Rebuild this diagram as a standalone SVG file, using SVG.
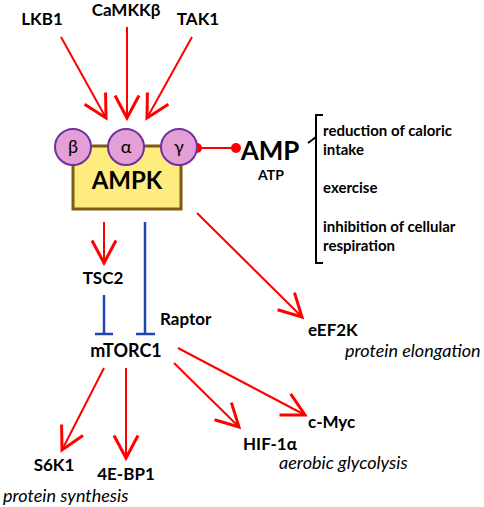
<svg xmlns="http://www.w3.org/2000/svg" width="484" height="507" viewBox="0 0 484 507">
<style>
text{font-family:Lato,"Open Sans","Liberation Sans",sans-serif;fill:#000}
.b{font-weight:bold}
.lbl{font-size:17px;font-weight:bold}
.note{font-size:15px;font-weight:bold}
.it{font-size:18px;font-style:italic}
.gr{font-size:18px}
.act{stroke:#ff0000;stroke-width:2;fill:none}
.inh{stroke:#1f45b0;stroke-width:2.5;fill:none}
.sub{fill:#e39fd6;stroke:#7030a0;stroke-width:2}
</style>
<defs>
<marker id="ah" markerUnits="userSpaceOnUse" markerWidth="30" markerHeight="30" viewBox="-16 -10 20 20" refX="0" refY="0" orient="auto">
<path d="M-15,-8 L0,0 L-15,8" fill="none" stroke="#ff0000" stroke-width="2"/>
</marker>
</defs>
<g id="connectors">
<line class="act" x1="61" y1="37" x2="106" y2="118" marker-end="url(#ah)"/>
<line class="act" x1="127" y1="27" x2="127" y2="118" marker-end="url(#ah)"/>
<line class="act" x1="192" y1="37" x2="147" y2="118" marker-end="url(#ah)"/>
<line class="act" x1="197" y1="148" x2="236" y2="148"/>
<circle cx="197" cy="148" r="5" fill="#ff0000"/>
<circle cx="236" cy="148" r="5" fill="#ff0000"/>
<line class="act" x1="197" y1="213" x2="302" y2="317" marker-end="url(#ah)"/>
<line class="act" x1="104" y1="222" x2="104" y2="263" marker-end="url(#ah)"/>
<line class="inh" x1="104" y1="295" x2="104" y2="334"/>
<line class="inh" x1="95" y1="334" x2="113" y2="334"/>
<line class="inh" x1="145" y1="222" x2="145" y2="334"/>
<line class="inh" x1="136" y1="334" x2="155" y2="334"/>
<line class="act" x1="104" y1="368" x2="62" y2="450" marker-end="url(#ah)"/>
<line class="act" x1="126" y1="368" x2="126" y2="458" marker-end="url(#ah)"/>
<line class="act" x1="174" y1="363" x2="239" y2="427" marker-end="url(#ah)"/>
<line class="act" x1="178" y1="348" x2="305" y2="415" marker-end="url(#ah)"/>
<path d="M323,115 L316,115 L316,263 L323,263 M316,137 L308,143" stroke="#000" stroke-width="2" fill="none"/>
</g>
<g id="LKB1"><text class="lbl" x="42" y="25" text-anchor="middle">LKB1</text></g>
<g id="CaMKKb"><text class="lbl" x="126" y="16" text-anchor="middle" font-size="18">CaMKKβ</text></g>
<g id="TAK1"><text class="lbl" x="198" y="25" text-anchor="middle">TAK1</text></g>
<g id="AMPK">
<rect x="73" y="146" width="108" height="63" fill="#ffec7f" stroke="#7f5a10" stroke-width="3"/>
<text class="b" x="127" y="189" text-anchor="middle" font-size="24">AMPK</text>
<circle class="sub" cx="73" cy="147" r="18"/>
<circle class="sub" cx="126" cy="147" r="18"/>
<circle class="sub" cx="179" cy="147" r="18"/>
<text class="gr" x="73" y="153" text-anchor="middle">β</text>
<text class="gr" x="126" y="153" text-anchor="middle">α</text>
<text class="gr" x="179" y="153" text-anchor="middle">γ</text>
</g>
<g id="AMP">
<text class="b" x="270" y="160" text-anchor="middle" font-size="26">AMP</text>
<text class="b" x="271" y="180" text-anchor="middle" font-size="14">ATP</text>
</g>
<g id="stimuli">
<text class="note" x="323" y="136">reduction of caloric</text>
<text class="note" x="323" y="155">intake</text>
<text class="note" x="323" y="193">exercise</text>
<text class="note" x="323" y="232">inhibition of cellular</text>
<text class="note" x="323" y="251">respiration</text>
</g>
<g id="eEF2K">
<text class="lbl" x="308" y="336">eEF2K</text>
<text class="it" x="345" y="357">protein elongation</text>
</g>
<g id="TSC2"><text class="lbl" x="103" y="284" text-anchor="middle">TSC2</text></g>
<g id="Raptor"><text class="lbl" x="160" y="325" font-size="18">Raptor</text></g>
<g id="mTORC1"><text class="b" x="126" y="357" text-anchor="middle" font-size="18">mTORC1</text></g>
<g id="S6K1"><text class="lbl" x="54" y="471" text-anchor="middle">S6K1</text></g>
<g id="4EBP1"><text class="lbl" x="126" y="480" text-anchor="middle">4E-BP1</text></g>
<g id="protein-synthesis"><text class="it" x="3" y="502" font-size="17.5">protein synthesis</text></g>
<g id="HIF1a"><text class="lbl" x="243" y="450">HIF-1α</text></g>
<g id="cMyc"><text class="lbl" x="308" y="428">c-Myc</text></g>
<g id="aerobic"><text class="it" x="279" y="469">aerobic glycolysis</text></g>
</svg>
